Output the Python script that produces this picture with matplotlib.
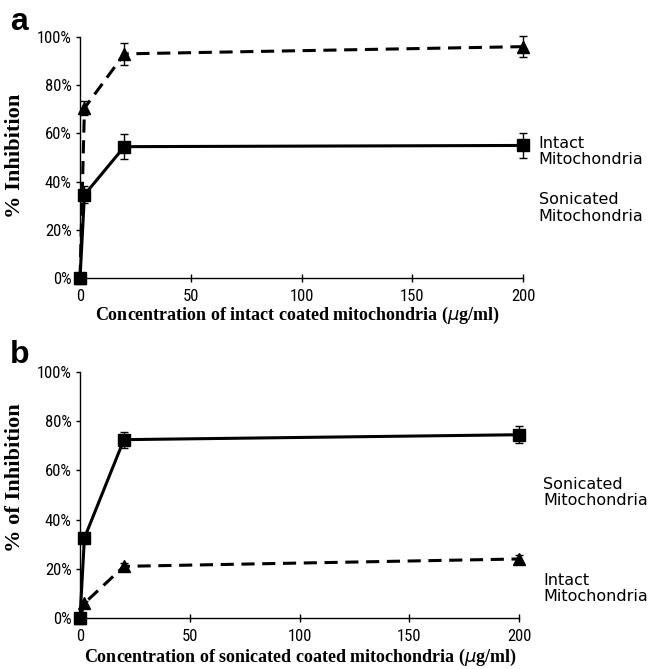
import matplotlib
matplotlib.use('Agg')
import matplotlib.pyplot as plt
from matplotlib import font_manager

conc = [0, 2, 20, 200]

# panel a: intact coated mitochondria
a_intact = [0, 70.5, 93, 96]
a_intact_err = [0, 3, 4.5, 4.5]
a_sonic = [0, 34.5, 54.5, 55]
a_sonic_err = [0, 3.5, 5.3, 5.3]

# panel b: sonicated coated mitochondria
b_sonic = [0, 32.5, 72.5, 74.5]
b_sonic_err = [0, 1.5, 3.2, 3.5]
b_intact = [0, 6, 21, 24]
b_intact_err = [0, 1, 1.5, 1.5]

y_ticks = [0, 20, 40, 60, 80, 100]
y_ticklabels = ['0%', '20%', '40%', '60%', '80%', '100%']
x_ticks = [0, 50, 100, 150, 200]

# pick a narrow sans for the tick labels if one is around
installed = {f.name for f in font_manager.fontManager.ttflist}
TICK_FONT = 'DejaVu Sans'
TICK_STRETCH = 'normal'
for cand in ['Liberation Sans Narrow', 'Roboto Condensed', 'Open Sans Condensed']:
    if cand in installed:
        TICK_FONT = cand
        break
else:
    if any(f.name == 'DejaVu Sans' and f.stretch == 'condensed' for f in font_manager.fontManager.ttflist):
        TICK_STRETCH = 'condensed'
SERIF = ['Liberation Serif', 'DejaVu Serif']

DASH = (0, (4.3, 2.5))


def style_axes(ax, xlabel, ylabel, xlab_pos, ylab_pos):
    for side in ['top', 'right']:
        ax.spines[side].set_visible(False)
    for side in ['left', 'bottom']:
        ax.spines[side].set_linewidth(1.0)
    ax.set_xlim(0, 200)
    ax.set_ylim(0, 100)
    ax.set_xticks(x_ticks)
    ax.set_yticks(y_ticks)
    ax.set_yticklabels(y_ticklabels)
    ax.tick_params(axis='x', direction='inout', length=6, width=1, pad=5)
    ax.tick_params(axis='y', direction='out', length=3, width=1, pad=3)
    for lab in ax.get_xticklabels() + ax.get_yticklabels():
        lab.set_family(TICK_FONT)
        lab.set_fontstretch(TICK_STRETCH)
        lab.set_fontsize(12)
    ax.set_xlabel(xlabel, family=SERIF, fontweight='bold', fontsize=13)
    ax.set_ylabel(ylabel, family=SERIF, fontweight='bold', fontsize=16.2)
    ax.xaxis.set_label_coords(*xlab_pos)
    ax.yaxis.set_label_coords(*ylab_pos)


def draw_series(ax, y, err, marker, ls, ms):
    ax.errorbar(conc, y, yerr=err, color='black', marker=marker, markersize=ms,
                linestyle=ls, linewidth=2.2, elinewidth=1, capsize=3, capthick=1,
                clip_on=False, zorder=3)


fig = plt.figure(figsize=(6.49, 6.69), dpi=100)
ax_a = fig.add_axes([0.1233, 1 - 278 / 669, 0.683, 241 / 669])
ax_b = fig.add_axes([0.1233, 1 - 618 / 669, 0.6764, 246 / 669])

draw_series(ax_a, a_intact, a_intact_err, '^', DASH, 8.5)
draw_series(ax_a, a_sonic, a_sonic_err, 's', '-', 8.5)
style_axes(ax_a, r'Concentration of intact coated mitochondria ($\mu$g/ml)', '% Inhibition',
           (0.49, -0.112), (-0.124, 0.508))
ax_a.text(207, 52.5, 'Intact\nMitochondria', fontsize=11.5, va='center', ha='left',
          linespacing=1.15, clip_on=False)
ax_a.text(207, 29, 'Sonicated\nMitochondria', fontsize=11.5, va='center', ha='left',
          linespacing=1.15, clip_on=False)

draw_series(ax_b, b_sonic, b_sonic_err, 's', '-', 8.5)
draw_series(ax_b, b_intact, b_intact_err, '^', DASH, 8.5)
style_axes(ax_b, r'Concentration of sonicated coated mitochondria ($\mu$g/ml)', '% of Inhibition',
           (0.503, -0.117), (-0.125, 0.569))
ax_b.text(211, 51, 'Sonicated\nMitochondria', fontsize=11.5, va='center', ha='left',
          linespacing=1.15, clip_on=False)
ax_b.text(211, 12, 'Intact\nMitochondria', fontsize=11.5, va='center', ha='left',
          linespacing=1.15, clip_on=False)

fig.text(10 / 649, 1 - 30 / 669, 'a', fontsize=23, fontweight='bold', va='baseline', ha='left',
         family=['Liberation Sans', 'DejaVu Sans'])
fig.text(10 / 649, 1 - 363 / 669, 'b', fontsize=23, fontweight='bold', va='baseline', ha='left',
         family=['Liberation Sans', 'DejaVu Sans'])

fig.savefig('out.png', dpi=100)
